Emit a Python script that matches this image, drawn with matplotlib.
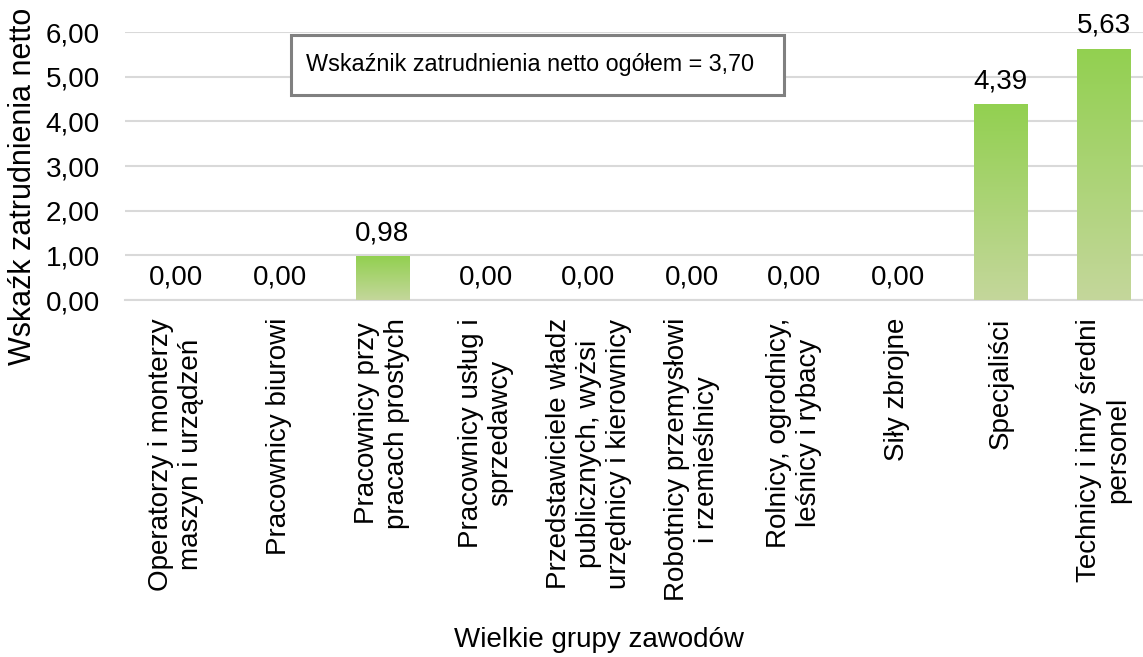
import numpy as np
import matplotlib
matplotlib.use("Agg")
import matplotlib.pyplot as plt
from matplotlib.colors import LinearSegmentedColormap
from matplotlib.patches import Rectangle

plt.rcParams['font.family'] = ['Liberation Sans', 'DejaVu Sans']

categories = [
    "Operatorzy i monterzy\nmaszyn i urządzeń",
    "Pracownicy biurowi",
    "Pracownicy przy\npracach prostych",
    "Pracownicy usług i\nsprzedawcy",
    "Przedstawiciele władz\npublicznych, wyżsi\nurzędnicy i kierownicy",
    "Robotnicy przemysłowi\ni rzemieślnicy",
    "Rolnicy, ogrodnicy,\nleśnicy i rybacy",
    "Siły zbrojne",
    "Specjaliści",
    "Technicy i inny średni\npersonel",
]
values = [0.00, 0.00, 0.98, 0.00, 0.00, 0.00, 0.00, 0.00, 4.39, 5.63]
overall = 3.70

W, H = 1143, 657
fig = plt.figure(figsize=(W / 100, H / 100), dpi=100)
ax = fig.add_axes([125/W, 357/H, 1030/W, 268/H])

x = np.arange(len(values))
bars = ax.bar(x, values, width=0.52, color='none', zorder=3)

# vertical green gradient inside each bar
cmap = LinearSegmentedColormap.from_list('g', ['#C4D79B', '#92D050'])
grad = np.linspace(0, 1, 256).reshape(-1, 1)
for b in bars:
    if b.get_height() <= 0:
        continue
    x0, y0 = b.get_x(), b.get_y()
    im = ax.imshow(grad, cmap=cmap, origin='lower', aspect='auto',
                   extent=[x0, x0 + b.get_width(), y0, y0 + b.get_height()],
                   zorder=3)
    im.set_clip_path(b)

ax.bar_label(bars, labels=[f"{v:.2f}".replace('.', ',') for v in values],
             padding=7, fontsize=20, clip_on=False)

ax.set_xlim(-0.5, len(values) - 0.5)
ax.set_ylim(0, 6)
ax.set_yticks(np.arange(0, 7, 1))
ax.set_yticklabels([f"{v:.2f}".replace('.', ',') for v in np.arange(0, 7, 1)])
ax.set_xticks(x)
ax.set_xticklabels(categories, rotation=90, ha='center', va='top',
                   multialignment='center')
ax.tick_params(axis='both', length=0, labelsize=20)
ax.tick_params(axis='y', pad=18)
ax.tick_params(axis='x', pad=13)

ax.grid(axis='y', color='#D9D9D9', linewidth=1.5, zorder=0)
for s in ['top', 'right', 'left']:
    ax.spines[s].set_visible(False)
ax.spines['bottom'].set_color('#D9D9D9')
ax.spines['bottom'].set_linewidth(1.5)

fig.text(23/W, 1 - 186/H, "Wskaźk zatrudnienia netto", rotation=90,
         ha='center', va='center', fontsize=22)
fig.text(599/W, 1 - 640/H, "Wielkie grupy zawodów",
         ha='center', va='center', fontsize=20)

# text box with the overall value
fig.patches.append(Rectangle((291/W, 1 - 95/H), 493/W, 60/H,
                             transform=fig.transFigure, facecolor='white',
                             edgecolor='#808080', linewidth=2.2, zorder=5))
fig.text(306/W, 1 - 65/H,
         f"Wskaźnik zatrudnienia netto ogółem = {overall:.2f}".replace('.', ','),
         ha='left', va='center', fontsize=16.8, zorder=6)

fig.savefig("out.png", dpi=100)
